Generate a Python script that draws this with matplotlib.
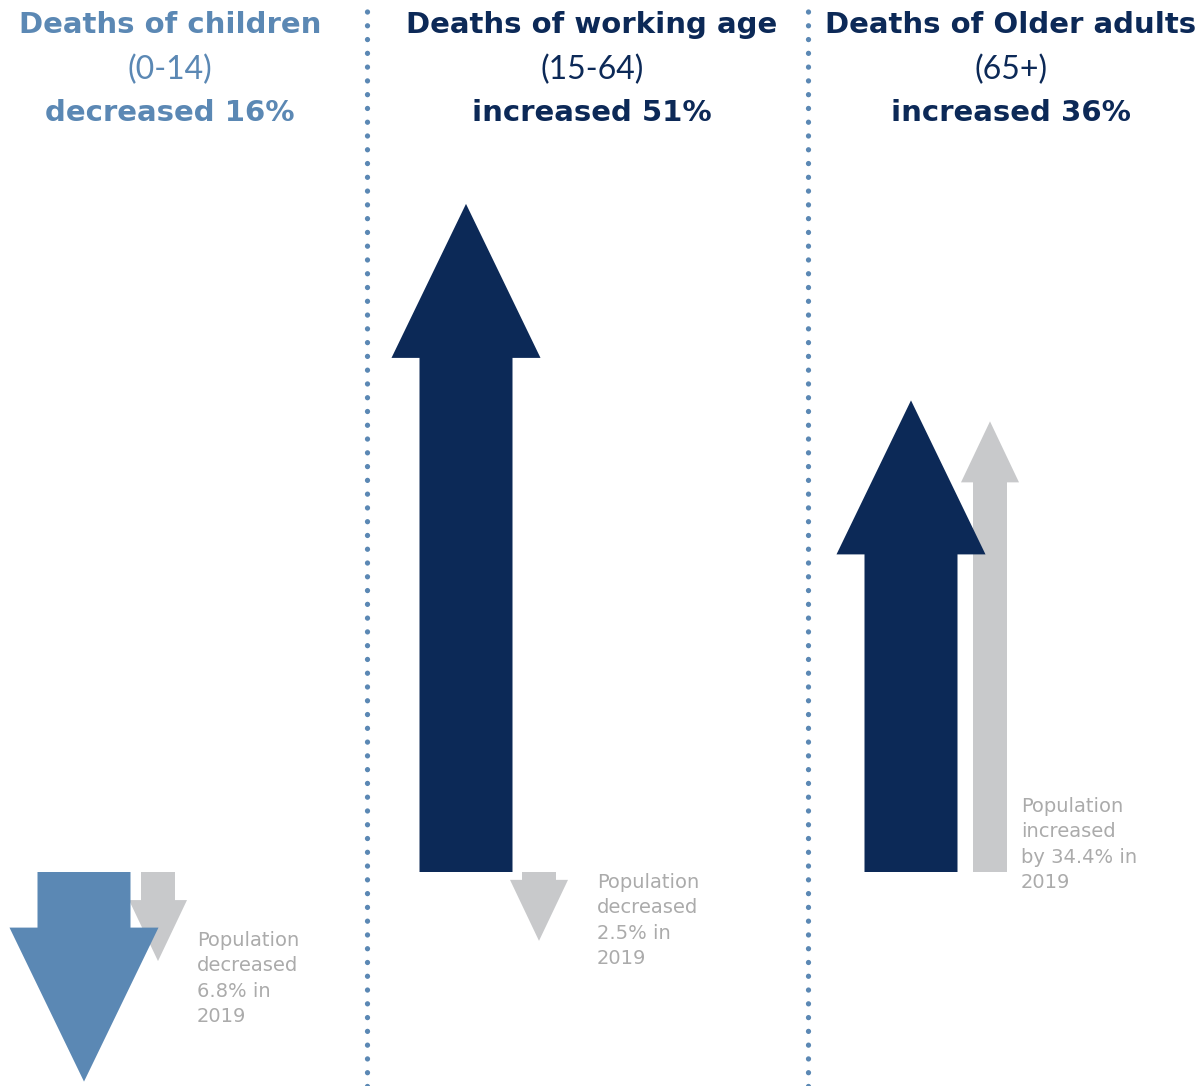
import matplotlib.pyplot as plt
from matplotlib.patches import Polygon

# percentage change in deaths by age group, and population change in 2019
groups = ["children", "working", "older"]
death_change = [-16, 51, 36]
pop_change = [-6.8, -2.5, 34.4]

titles = ["Deaths of children", "Deaths of working age", "Deaths of Older adults"]
ranges = ["(0-14)", "(15-64)", "(65+)"]
pop_notes = ["Population\ndecreased\n6.8% in\n2019",
             "Population\ndecreased\n2.5% in\n2019",
             "Population\nincreased\nby 34.4% in\n2019"]

navy = "#0c2957"
steel = "#5b88b4"
grey = "#c8c9cb"
note_grey = "#ababab"

W, H = 1204, 1086
base = 872          # pixel row of the zero line
scale = 13.1        # pixels per percentage point

fig = plt.figure(figsize=(W / 100, H / 100), dpi=100)
ax = fig.add_axes([0, 0, 1, 1])
ax.set_xlim(0, W)
ax.set_ylim(-(H - base) / scale, base / scale)
ax.axis("off")


def arrow(xc, v, shaft_w, head_w, head_px, color, z):
    # head length in pixels is converted to percentage units
    head = head_px / scale
    length = max(abs(v), head + 0.6)
    sign = 1 if v > 0 else -1
    tip = sign * length
    neck = tip - sign * head
    pts = [(xc - shaft_w / 2, 0), (xc - shaft_w / 2, neck), (xc - head_w / 2, neck),
           (xc, tip), (xc + head_w / 2, neck), (xc + shaft_w / 2, neck),
           (xc + shaft_w / 2, 0)]
    ax.add_patch(Polygon(pts, closed=True, facecolor=color, edgecolor="none", zorder=z))


death_x = [84, 466, 911]
pop_x = [158, 539, 990]
death_cols = [steel, navy, navy]
title_x = [170, 592, 1011]
title_cols = [steel, navy, navy]
note_pos = [(197, 940), (597, 882), (1021, 806)]

for i in range(3):
    arrow(pop_x[i], pop_change[i], 34, 58, 61, grey, 2)
    arrow(death_x[i], death_change[i], 93, 149, 154, death_cols[i], 3)

    ax.text(title_x[i], (base - 25) / scale, titles[i], ha="center", va="center",
            fontsize=21, fontweight="bold", color=title_cols[i], family="DejaVu Sans")
    ax.text(title_x[i], (base - 70) / scale, ranges[i], ha="center", va="center",
            fontsize=23, fontweight="normal", color=title_cols[i], family="Lato")
    word = "decreased" if death_change[i] < 0 else "increased"
    ax.text(title_x[i], (base - 113) / scale, f"{word} {abs(death_change[i])}%",
            ha="center", va="center", fontsize=21, fontweight="bold",
            color=title_cols[i], family="DejaVu Sans")

    nx, ny = note_pos[i]
    ax.text(nx, (base - ny + 9) / scale, pop_notes[i], ha="left", va="top",
            fontsize=14, color=note_grey, family="DejaVu Sans",
            linespacing=1.42)

# dotted separators between the panels
for sx in [367, 808]:
    ax.plot([sx, sx], ax.get_ylim(), color=steel, linewidth=3.8,
            linestyle=(0, (0.01, 2.6)), dash_capstyle="round", zorder=1)

plt.savefig("out.png", dpi=100)
